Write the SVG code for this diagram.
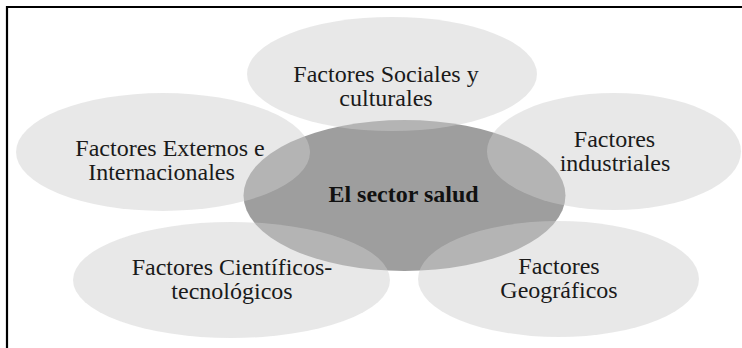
<svg xmlns="http://www.w3.org/2000/svg" width="742" height="348" viewBox="0 0 742 348">
<style>
.outer{fill:#cecece;fill-opacity:0.47}
.center{fill:#9e9e9e}
.t{font-family:"Liberation Serif","Times New Roman",serif;font-size:24px;fill:#1a1a1a;text-anchor:middle}
.tb{font-family:"Liberation Serif","Times New Roman",serif;font-size:24px;font-weight:bold;fill:#111;text-anchor:middle}
</style>
<rect x="0" y="0" width="742" height="348" fill="#fff"/>
<path d="M7,348 V7 H742" fill="none" stroke="#000" stroke-width="2.2"/>
<g id="node-center">
<ellipse class="center" cx="404.5" cy="195.5" rx="161" ry="75.5"/>
<text class="tb" x="403.5" y="202">El sector salud</text>
</g>
<g id="node-sociales">
<ellipse class="outer" cx="392" cy="74" rx="145" ry="57"/>
<text class="t" x="386" y="82">Factores Sociales y</text>
<text class="t" x="386" y="106">culturales</text>
</g>
<g id="node-externos">
<ellipse class="outer" cx="163" cy="152" rx="147" ry="59"/>
<text class="t" x="170" y="156">Factores Externos e</text>
<text class="t" x="161.5" y="180">Internacionales</text>
</g>
<g id="node-industriales">
<ellipse class="outer" cx="614" cy="151.5" rx="127" ry="58.5"/>
<text class="t" x="614.5" y="147">Factores</text>
<text class="t" x="615" y="171">industriales</text>
</g>
<g id="node-cientificos">
<ellipse class="outer" cx="231.5" cy="280" rx="158.5" ry="58"/>
<text class="t" x="232" y="275">Factores Científicos-</text>
<text class="t" x="232" y="299">tecnológicos</text>
</g>
<g id="node-geograficos">
<ellipse class="outer" cx="558.5" cy="279" rx="140.5" ry="58"/>
<text class="t" x="559" y="274">Factores</text>
<text class="t" x="559" y="298">Geográficos</text>
</g>
</svg>
